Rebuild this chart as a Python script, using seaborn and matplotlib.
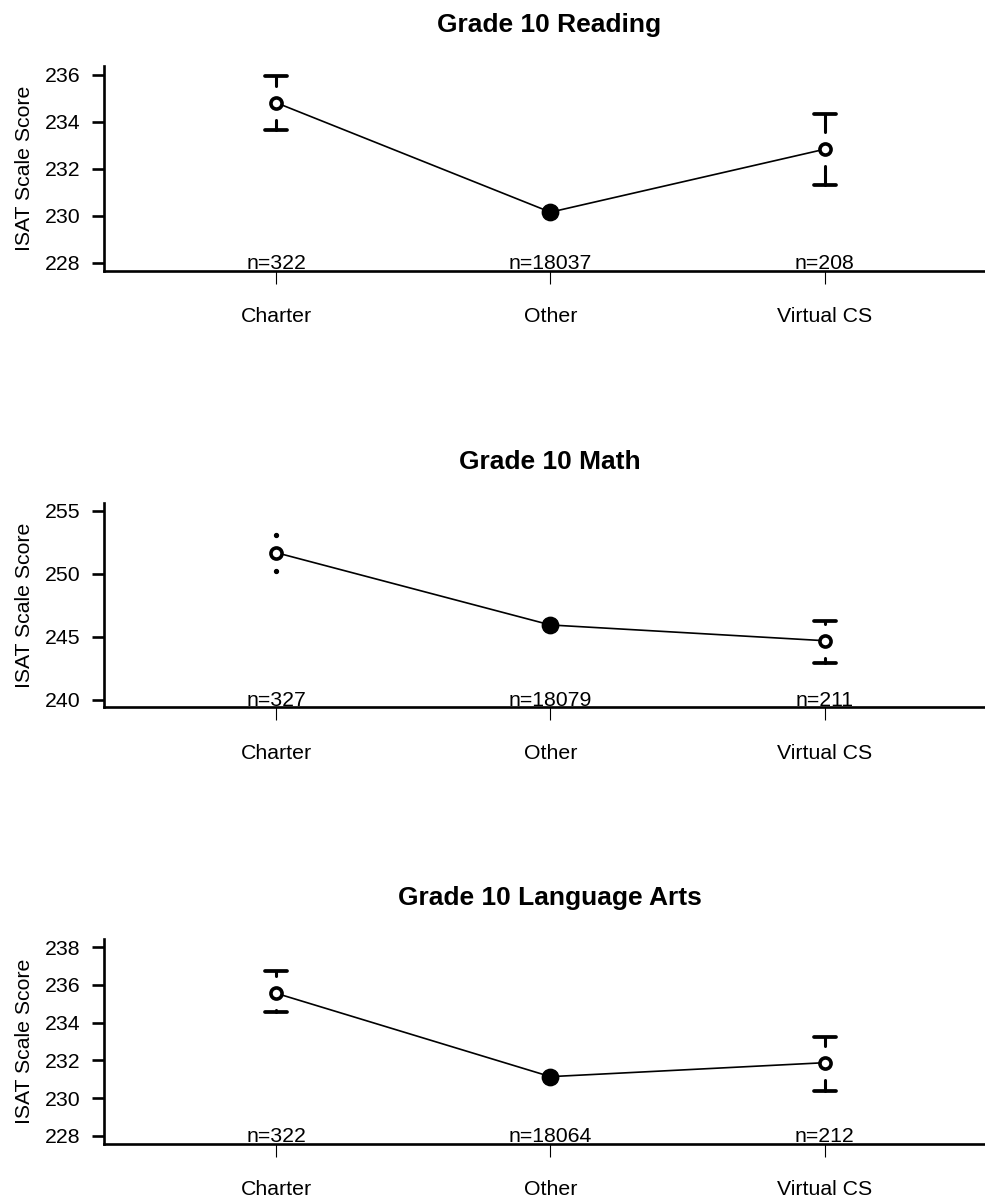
import numpy as np
import pandas as pd
import matplotlib
matplotlib.use("Agg")
import matplotlib.pyplot as plt
import seaborn as sns

# ── Data ──────────────────────────────────────────────────────────────────────
GROUPS = ["Charter", "Other", "Virtual CS"]

READING_MEAN = [234.82, 230.16, 232.84]
READING_LOW = [233.66, 230.12, 231.32]
READING_HIGH = [235.96, 230.20, 234.33]
READING_N = [322, 18037, 208]

MATH_MEAN = [251.67, 245.93, 244.68]
MATH_LOW = [250.24, 245.87, 242.94]
MATH_HIGH = [253.07, 245.99, 246.27]
MATH_N = [327, 18079, 211]

LANG_MEAN = [235.56, 231.14, 231.88]
LANG_LOW = [234.55, 231.09, 230.39]
LANG_HIGH = [236.74, 231.19, 233.26]
LANG_N = [322, 18064, 212]

PANELS = [
    ("Grade 10 Reading", READING_MEAN, READING_LOW, READING_HIGH, READING_N,
     (227.67, 236.38), np.arange(228, 237, 2)),
    ("Grade 10 Math", MATH_MEAN, MATH_LOW, MATH_HIGH, MATH_N,
     (239.39, 255.63), np.arange(240, 256, 5)),
    ("Grade 10 Language Arts", LANG_MEAN, LANG_LOW, LANG_HIGH, LANG_N,
     (227.57, 238.42), np.arange(228, 239, 2)),
]

# ── Style ─────────────────────────────────────────────────────────────────────
sns.set_style("white")
plt.rcParams["font.family"] = ["Liberation Sans", "DejaVu Sans"]
plt.rcParams.update({
    "axes.linewidth": 1.9,
    "axes.edgecolor": "black",
    "axes.labelcolor": "black",
    "text.color": "black",
    "xtick.color": "black",
    "ytick.color": "black",
})

W, H, DPI = 985, 1199, 100
LEFT_PX, RIGHT_PX = 104, 995
TOPS_PX = [66, 502.7, 939.3]
PANEL_H_PX = 204.7
XLIM = (-0.627, 2.62)
GAP_PX = 17
CAP_HALF = 0.041
FS = 15.3


def draw_ci(ax, means, lows, highs, ylim):
    px_per_unit = PANEL_H_PX / (ylim[1] - ylim[0])
    gap = GAP_PX / px_per_unit
    for i, (m, lo, hi) in enumerate(zip(means, lows, highs)):
        if (hi - m) < gap and (m - lo) < gap:
            # interval hidden inside the symbol -> solid dot
            ax.plot(i, m, marker="o", ms=11.8, color="black", zorder=5)
            continue
        for end in (hi, lo):
            sign = 1 if end > m else -1
            reach_px = (abs(end - m) - gap) * px_per_unit
            if reach_px >= 2:
                ax.vlines(i, m + sign * gap, end, color="black", lw=2.2,
                          capstyle="round")
                ax.hlines(end, i - CAP_HALF, i + CAP_HALF, color="black",
                          lw=2.7, capstyle="round")
            else:
                ax.plot(i, end, marker="o", ms=2.8, color="black")


fig = plt.figure(figsize=(W / DPI, H / DPI), dpi=DPI)

for (title, means, lows, highs, ns, ylim, yticks), top in zip(PANELS, TOPS_PX):
    ax = fig.add_axes([LEFT_PX / W, 1 - (top + PANEL_H_PX) / H,
                       (RIGHT_PX - LEFT_PX) / W, PANEL_H_PX / H])
    df = pd.DataFrame({"group": GROUPS, "score": means})
    sns.pointplot(data=df, x="group", y="score", ax=ax, color="black",
                  errorbar=None, markers="None", linestyles="-",
                  linewidth=1.2)
    # open circles for the means
    ax.plot(range(len(GROUPS)), means, linestyle="none", marker="o",
            ms=8.0, mfc="white", mec="black", mew=2.6, zorder=4)
    ax.set_xlim(*XLIM)
    ax.set_ylim(*ylim)
    ax.set_yticks(yticks)
    ax.set_yticklabels([str(t) for t in yticks])
    draw_ci(ax, means, lows, highs, ylim)

    for i, n in enumerate(ns):
        ax.annotate(f"n={n}", xy=(i, 0), xycoords=("data", "axes fraction"),
                    xytext=(0, 1.2), textcoords="offset points",
                    ha="center", va="baseline", fontsize=FS)

    sns.despine(ax=ax)
    ax.tick_params(axis="y", direction="out", length=8.6, width=1.9,
                   pad=8.5, labelsize=FS, left=True)
    ax.tick_params(axis="x", direction="out", length=9, width=0.8,
                   pad=17, labelsize=FS, bottom=True)
    ax.set_xlabel("")
    ax.set_ylabel("ISAT Scale Score", fontsize=FS)
    ax.yaxis.set_label_coords(-0.079, 0.5)
    ax.set_title(title, fontsize=19, fontweight="bold", pad=24.5)

fig.savefig("out.png", dpi=DPI)
